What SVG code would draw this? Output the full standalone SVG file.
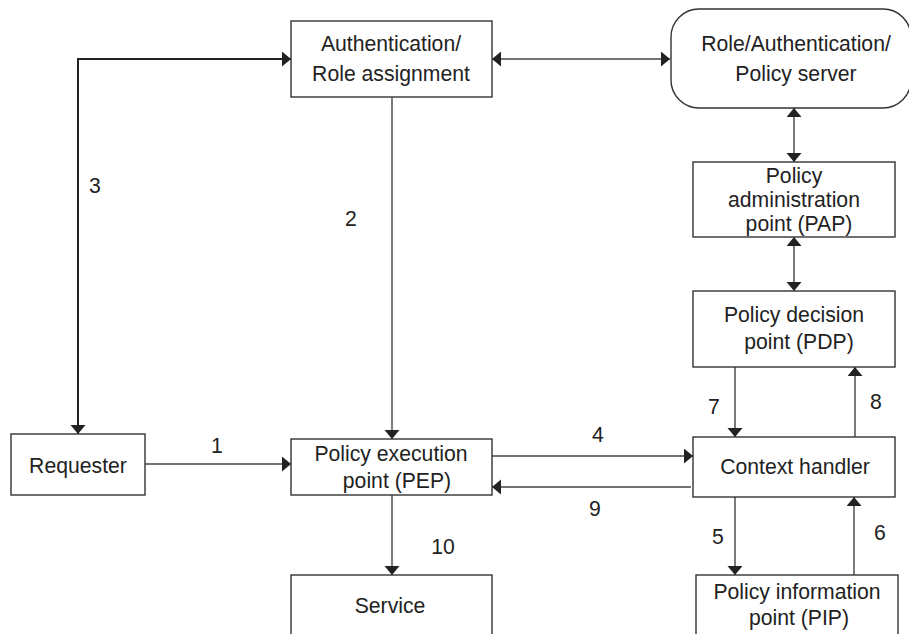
<svg xmlns="http://www.w3.org/2000/svg" width="909" height="634" viewBox="0 0 909 634">
<defs>
<marker id="ah" markerUnits="userSpaceOnUse" markerWidth="10" markerHeight="16" refX="9" refY="7.5" orient="auto-start-reverse" viewBox="0 0 10 16">
<path d="M0,0 L9,7.5 L0,15 z" fill="#222"/>
</marker>
</defs>
<style>
.box{fill:#fff;stroke:#333;stroke-width:1.4}
.t{font-family:"Liberation Sans",Arial,sans-serif;font-size:21.2px;fill:#222;text-anchor:middle}
.c{fill:none;stroke:#444;stroke-width:1.4}
.thick{stroke:#222;stroke-width:2}
</style>
<rect width="909" height="634" fill="#fff"/>
<g id="connectors">
<path class="c" d="M492,59 H670" marker-start="url(#ah)" marker-end="url(#ah)"/>
<path class="c thick" d="M291,59 H78 V434" marker-start="url(#ah)" marker-end="url(#ah)"/>
<path class="c" d="M392,97 V439" marker-end="url(#ah)"/>
<path class="c" d="M145,464 H291" marker-end="url(#ah)"/>
<path class="c" d="M392,495 V575" marker-end="url(#ah)"/>
<path class="c" d="M794,108 V162" marker-start="url(#ah)" marker-end="url(#ah)"/>
<path class="c" d="M794,237 V291" marker-start="url(#ah)" marker-end="url(#ah)"/>
<path class="c" d="M735,367 V437" marker-end="url(#ah)"/>
<path class="c" d="M855,437 V367" marker-end="url(#ah)"/>
<path class="c" d="M492,456 H693" marker-end="url(#ah)"/>
<path class="c" d="M691,487 H492" marker-end="url(#ah)"/>
<path class="c" d="M735,497 V575" marker-end="url(#ah)"/>
<path class="c" d="M854,575 V497" marker-end="url(#ah)"/>
<text class="t" x="217" y="453">1</text>
<text class="t" x="351" y="226">2</text>
<text class="t" x="95" y="193">3</text>
<text class="t" x="598" y="442">4</text>
<text class="t" x="718" y="544">5</text>
<text class="t" x="880" y="540">6</text>
<text class="t" x="714" y="414">7</text>
<text class="t" x="876" y="409">8</text>
<text class="t" x="595" y="516">9</text>
<text class="t" x="443" y="554">10</text>
</g>
<g id="auth">
<rect class="box" x="291" y="21" width="201" height="76"/>
<text class="t" x="391" y="51">Authentication/</text>
<text class="t" x="391" y="81">Role assignment</text>
</g>
<g id="server">
<rect class="box" x="671" y="9" width="240" height="99" rx="28" ry="28"/>
<text class="t" x="796" y="51">Role/Authentication/</text>
<text class="t" x="796" y="81">Policy server</text>
</g>
<g id="pap">
<rect class="box" x="693" y="162" width="202" height="75"/>
<text class="t" x="794" y="183">Policy</text>
<text class="t" x="794" y="207">administration</text>
<text class="t" x="799" y="231">point (PAP)</text>
</g>
<g id="pdp">
<rect class="box" x="693" y="291" width="202" height="76"/>
<text class="t" x="794" y="322">Policy decision</text>
<text class="t" x="799" y="349">point (PDP)</text>
</g>
<g id="context">
<rect class="box" x="693" y="437" width="202" height="60"/>
<text class="t" x="795" y="474">Context handler</text>
</g>
<g id="pip">
<rect class="box" x="696" y="575" width="202" height="70"/>
<text class="t" x="797" y="599">Policy information</text>
<text class="t" x="799" y="625">point (PIP)</text>
</g>
<g id="requester">
<rect class="box" x="11" y="434" width="134" height="61"/>
<text class="t" x="78" y="473">Requester</text>
</g>
<g id="pep">
<rect class="box" x="291" y="439" width="201" height="56"/>
<text class="t" x="391" y="461">Policy execution</text>
<text class="t" x="397" y="488">point (PEP)</text>
</g>
<g id="service">
<rect class="box" x="291" y="575" width="201" height="70"/>
<text class="t" x="390" y="613">Service</text>
</g>
</svg>
